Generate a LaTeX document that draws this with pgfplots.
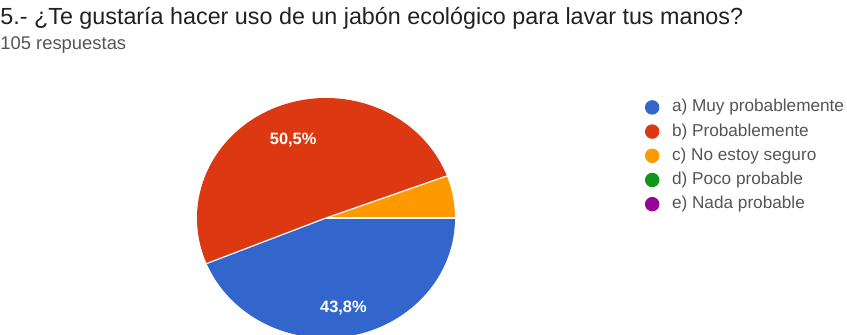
\documentclass[border=0pt]{standalone}
\usepackage{pgfplots}
\pgfplotsset{compat=1.18}
\usetikzlibrary{calc}
\usepackage{fontspec}
\setmainfont{Liberation Sans}

\definecolor{gblue}{HTML}{3366CC}
\definecolor{gred}{HTML}{DC3912}
\definecolor{gorange}{HTML}{FF9900}
\definecolor{ggreen}{HTML}{109618}
\definecolor{gpurple}{HTML}{990099}
\definecolor{gtitle}{HTML}{202124}
\definecolor{gtext}{HTML}{555555}

% percentages
\def\vA{43.8} % a) Muy probablemente
\def\vB{50.5} % b) Probablemente
\def\vC{5.7}  % c) No estoy seguro

\begin{document}
\begin{tikzpicture}
\pgfmathsetmacro\aA{-\vA*3.6}
\pgfmathsetmacro\aB{\aA-\vB*3.6}
\pgfmathsetmacro\aC{\aB-\vC*3.6}
\pgfmathsetmacro\mA{\aA/2}
\pgfmathsetmacro\mB{(\aA+\aB)/2}
\begin{axis}[
    hide axis,
    scale only axis,
    width=423.5pt, height=167.5pt,
    xmin=0, xmax=847, ymin=0, ymax=335,
    clip=false,
    legend style={at={(axis cs:645,235.5)}, anchor=north west, draw=none, fill=none,
        font=\fontsize{8.6}{10}\selectfont, text=gtext,
        nodes={inner sep=0pt, text height=6pt, text depth=1.5pt},
        /tikz/every odd column/.append style={column sep=6.5pt},
        row sep=4.6pt, inner sep=0pt},
    legend cell align=left,
]
% title and subtitle
\node[anchor=base west, inner sep=0pt, text=gtitle] at (axis cs:0,310)
    {\fontsize{11.66}{13}\selectfont 5.- ¿Te gustaría hacer uso de un jabón ecológico para lavar tus manos?};
\node[anchor=base west, inner sep=0pt, text=gtext] at (axis cs:0,285)
    {\fontsize{9.2}{10}\selectfont 105 respuestas};

% pie slices, clockwise from 3 o'clock
\fill[gblue] (axis cs:326,117) -- ++(0:64.5pt and 60pt) arc[start angle=0, end angle=\aA, x radius=64.5pt, y radius=60pt] -- cycle;
\fill[gred] (axis cs:326,117) -- ++(\aA:64.5pt and 60pt) arc[start angle=\aA, end angle=\aB, x radius=64.5pt, y radius=60pt] -- cycle;
\fill[gorange] (axis cs:326,117) -- ++(\aB:64.5pt and 60pt) arc[start angle=\aB, end angle=\aC, x radius=64.5pt, y radius=60pt] -- cycle;
\draw[white, line width=0.6pt] (axis cs:326,117) -- ++(\aA:64.5pt and 60pt);
\draw[white, line width=0.6pt] (axis cs:326,117) -- ++(\aB:64.5pt and 60pt);
\draw[white, line width=0.6pt] (axis cs:326,117) -- ++(0:64.5pt and 60pt);

\node[text=white, font=\fontsize{8.2}{9}\selectfont\bfseries] at ($(axis cs:326,117)+(\mB:45pt and 42pt)$) {50,5\%};
\node[text=white, font=\fontsize{8.2}{9}\selectfont\bfseries] at ($(axis cs:326,117)+(\mA:45pt and 46pt)$) {43,8\%};

% legend
\addlegendimage{only marks, mark=*, mark size=3.4pt, color=gblue}
\addlegendentry{a) Muy probablemente}
\addlegendimage{only marks, mark=*, mark size=3.4pt, color=gred}
\addlegendentry{b) Probablemente}
\addlegendimage{only marks, mark=*, mark size=3.4pt, color=gorange}
\addlegendentry{c) No estoy seguro}
\addlegendimage{only marks, mark=*, mark size=3.4pt, color=ggreen}
\addlegendentry{d) Poco probable}
\addlegendimage{only marks, mark=*, mark size=3.4pt, color=gpurple}
\addlegendentry{e) Nada probable}
\end{axis}
\pgfresetboundingbox
\useasboundingbox (0,0) rectangle (423.5pt,167.5pt);
\end{tikzpicture}
\end{document}
